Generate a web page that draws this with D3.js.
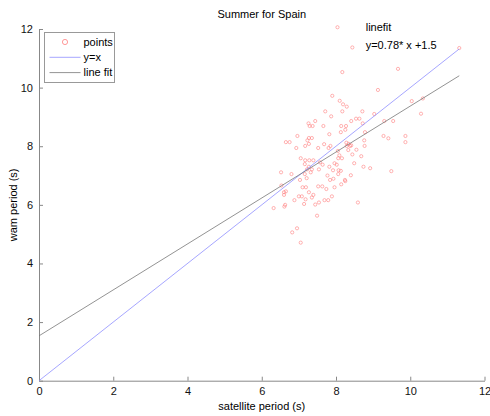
<!DOCTYPE html>
<html>
<head>
<meta charset="utf-8">
<script src="https://cdn.jsdelivr.net/npm/d3@7"></script>
<style>
  body { margin: 0; background: #fff; }
  svg { display: block; font-family: "Liberation Sans", Arial, sans-serif; }
  .axis path, .axis line { stroke: #888; }
  .axis text { fill: #111; font-size: 11px; }
</style>
</head>
<body>
<svg id="chart" width="490" height="416"></svg>
<script>
// satellite period (s)
const satX = [
  8.04, 8.44, 8.17, 9.67, 9.13, 7.90, 8.10, 8.19, 8.29, 7.71, 8.17, 8.71, 7.87, 9.03, 10.04,
  10.34, 10.29, 9.30, 9.54, 8.54, 8.63, 8.41, 8.72, 7.44, 7.26, 7.29, 7.37, 7.66, 8.14, 8.27,
  11.32, 8.13, 8.25, 7.82, 6.96, 7.27, 7.35, 7.23, 6.65, 6.75, 7.27, 8.28, 8.34, 8.41, 8.76,
  8.78, 9.28, 9.41, 9.87, 9.87, 7.68, 7.85, 7.17, 6.93, 7.52, 7.80, 8.29, 8.38, 8.77, 8.55,
  8.05, 8.33, 8.44, 8.68, 7.05, 8.06, 8.16, 8.09, 7.17, 7.28, 7.39, 7.57, 7.64, 8.49, 7.96,
  8.02, 7.16, 7.27, 7.35, 7.22, 7.82, 8.74, 8.92, 7.54, 7.92, 8.07, 7.32, 6.52, 6.80, 8.13,
  7.16, 7.77, 8.40, 9.49, 8.06, 7.03, 7.21, 7.84, 7.93, 8.24, 8.25, 6.53, 8.14, 7.10, 7.19,
  7.52, 7.63, 7.74, 7.96, 6.60, 6.65, 7.27, 6.60, 7.00, 7.08, 7.39, 7.35, 7.89, 6.88, 7.18,
  7.69, 7.79, 7.54, 7.44, 7.14, 6.63, 6.61, 8.59, 6.32, 7.49, 6.95, 6.82, 7.05
];
// wam period (s)
const wamY = [
  12.06, 11.37, 10.53, 10.64, 9.92, 9.72, 9.55, 9.43, 9.35, 9.19, 9.19, 9.19, 9.02, 9.10, 9.54,
  9.63, 9.11, 8.86, 8.86, 8.94, 8.94, 8.86, 8.78, 8.86, 8.78, 8.69, 8.69, 8.69, 8.69, 8.69,
  11.35, 8.48, 8.56, 8.41, 8.35, 8.28, 8.28, 8.20, 8.14, 8.14, 8.08, 8.12, 8.08, 8.03, 8.20,
  8.48, 8.35, 8.27, 8.35, 8.14, 8.07, 8.01, 8.01, 7.94, 7.94, 7.94, 8.01, 8.01, 8.01, 7.88,
  7.84, 7.87, 7.72, 7.66, 7.59, 7.59, 7.59, 7.69, 7.52, 7.52, 7.52, 7.45, 7.37, 7.42, 7.42,
  7.37, 7.39, 7.30, 7.21, 7.21, 7.30, 7.30, 7.25, 7.21, 7.18, 7.18, 7.11, 7.11, 7.05, 7.16,
  7.05, 7.00, 7.01, 7.15, 7.05, 6.85, 6.91, 6.85, 6.89, 6.85, 6.81, 6.66, 6.70, 6.60, 6.60,
  6.63, 6.63, 6.54, 6.60, 6.43, 6.46, 6.43, 6.34, 6.29, 6.29, 6.34, 6.25, 6.29, 6.16, 6.19,
  6.16, 6.16, 6.08, 6.01, 6.03, 6.00, 5.94, 6.08, 5.89, 5.63, 5.20, 5.06, 4.71
];
const fitSlope = 0.784;
const fitIntercept = 1.53;
const xTicks = [0, 2, 4, 6, 8, 10, 12];
const yTicks = [0, 2, 4, 6, 8, 10, 12];
const legendLabels = ["points", "y=x", "line fit"];

const points = satX.map((x, i) => ({ x, y: wamY[i] }));
const xEnd = d3.max(satX);

const marginTop = 29, marginRight = 5, marginBottom = 35, marginLeft = 39;
const width = 490, height = 416;

const svg = d3.select("#chart");

const x = d3.scaleLinear().domain([0, 12]).range([marginLeft, width - marginRight - 0.5]);
const y = d3.scaleLinear().domain([0, 12]).range([height - marginBottom - 0.3, marginTop]);

// axes (box off)
svg.append("g")
  .attr("class", "axis")
  .attr("transform", `translate(0,${y(0)})`)
  .call(d3.axisBottom(x).tickValues(xTicks).tickSizeInner(-4).tickSizeOuter(0).tickPadding(6))
  .call((g) => g.selectAll(".tick text").attr("dy", "0.75em"));

svg.append("g")
  .attr("class", "axis")
  .attr("transform", `translate(${x(0)},0)`)
  .call(d3.axisLeft(y).tickValues(yTicks).tickSizeInner(-4).tickSizeOuter(0).tickPadding(6));

svg.selectAll(".axis .domain").attr("stroke", "#888");

// scatter points
svg.append("g")
  .selectAll("circle")
  .data(points)
  .join("circle")
  .attr("cx", (d) => x(d.x))
  .attr("cy", (d) => y(d.y))
  .attr("r", 1.6)
  .attr("fill", "none")
  .attr("stroke", "#ff8080")
  .attr("stroke-opacity", 0.75)
  .attr("stroke-width", 0.8);

// y = x
svg.append("line")
  .attr("x1", x(0)).attr("y1", y(0))
  .attr("x2", x(xEnd)).attr("y2", y(xEnd))
  .attr("stroke", "#8f8fff")
  .attr("stroke-width", 0.8);

// line fit
svg.append("line")
  .attr("x1", x(0)).attr("y1", y(fitIntercept))
  .attr("x2", x(xEnd)).attr("y2", y(fitSlope * xEnd + fitIntercept))
  .attr("stroke", "#777")
  .attr("stroke-width", 0.8);

// title and labels
svg.append("text")
  .attr("x", x(6)).attr("y", 18)
  .attr("text-anchor", "middle")
  .attr("font-size", 11)
  .text("Summer for Spain");

svg.append("text")
  .attr("x", x(6)).attr("y", height - 6)
  .attr("text-anchor", "middle")
  .attr("font-size", 11)
  .text("satellite period (s)");

svg.append("text")
  .attr("transform", `translate(17,${y(6)}) rotate(-90)`)
  .attr("text-anchor", "middle")
  .attr("font-size", 11)
  .text("wam period (s)");

svg.append("text")
  .attr("x", x(8.8)).attr("y", 31)
  .attr("font-size", 11)
  .text("linefit");

svg.append("text")
  .attr("x", x(8.8)).attr("y", 49)
  .attr("font-size", 11)
  .text(`y=${d3.format(".2f")(fitSlope)}* x +${d3.format(".1f")(fitIntercept)}`);

// legend
const legend = svg.append("g").attr("transform", "translate(44.5,32.5)");
legend.append("rect")
  .attr("width", 70).attr("height", 50)
  .attr("fill", "#fff")
  .attr("stroke", "#999");

const legendItem = legend.selectAll(".legend-item")
  .data(legendLabels)
  .join("g")
  .attr("class", "legend-item")
  .attr("transform", (d, i) => `translate(0,${9.5 + i * 15.3})`);

legendItem.filter((d, i) => i === 0)
  .append("circle")
  .attr("cx", 20.5).attr("r", 2.6)
  .attr("fill", "none")
  .attr("stroke", "#ff8080")
  .attr("stroke-width", 0.8);

legendItem.filter((d, i) => i > 0)
  .append("line")
  .attr("x1", 5).attr("x2", 36)
  .attr("stroke", (d, i) => (i === 0 ? "#8f8fff" : "#777"))
  .attr("stroke-width", 0.8);

legendItem.append("text")
  .attr("x", 39)
  .attr("dy", "0.35em")
  .attr("font-size", 11)
  .text((d) => d);
</script>
</body>
</html>
